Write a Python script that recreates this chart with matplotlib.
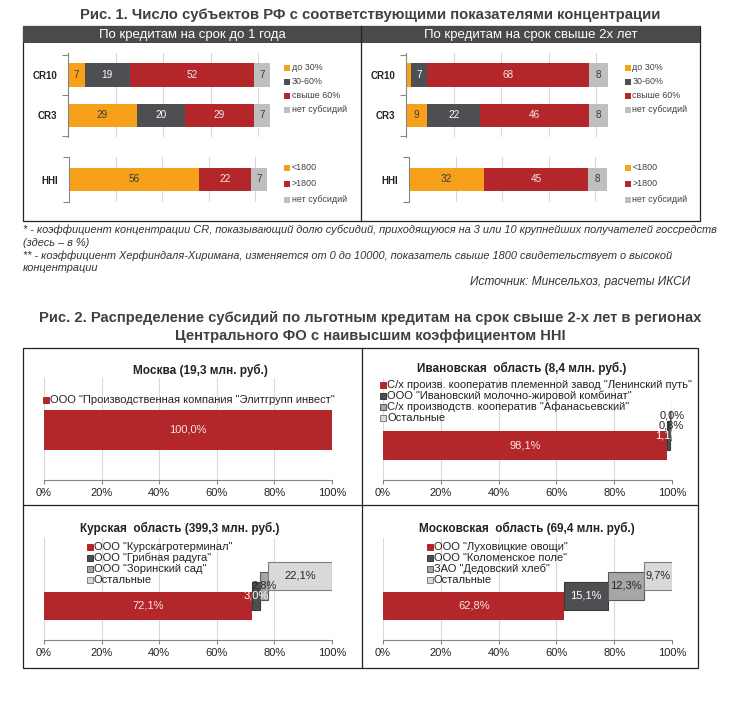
import matplotlib
matplotlib.use("Agg")
import matplotlib.pyplot as plt
from matplotlib.patches import Rectangle

plt.rcParams['font.family'] = ['Liberation Sans', 'DejaVu Sans']

# ---------------- DATA ----------------
fig1_title = 'Рис. 1. Число субъектов РФ с соответствующими показателями концентрации'
panel_titles = ['По кредитам на срок до 1 года', 'По кредитам на срок свыше 2х лет']
cr_cats = ['CR10', 'CR3']
cr_labels = ['до 30%', '30-60%', 'свыше 60%', 'нет субсидий']
cr_short = [[7, 29], [19, 20], [52, 29], [7, 7]]     # series x (CR10, CR3)
cr_long = [[2, 9], [7, 22], [68, 46], [8, 8]]
hhi_cats = ['HHI']
hhi_labels = ['<1800', '>1800', 'нет субсидий']
hhi_short = [56, 22, 7]
hhi_long = [32, 45, 8]

footnotes = [
    '* - коэффициент концентрации CR, показывающий долю субсидий, приходящуюся на 3 или 10 крупнейших получателей госсредств',
    '(здесь – в %)',
    '** - коэффициент Херфиндаля-Хиримана, изменяется от 0 до 10000, показатель свыше 1800 свидетельствует о высокой',
    'концентрации',
]
source_text = 'Источник: Минсельхоз, расчеты ИКСИ'

fig2_title = ['Рис. 2. Распределение субсидий по льготным кредитам на срок свыше 2-х лет в регионах',
              'Центрального ФО с наивысшим коэффициентом HHI']

region_titles = ['Москва (19,3 млн. руб.)', 'Ивановская  область (8,4 млн. руб.)',
                 'Курская  область (399,3 млн. руб.)', 'Московская  область (69,4 млн. руб.)']
moscow_names = ['ООО "Производственная компания "Элитгрупп инвест"']
moscow_shares = [100.0]
ivanovo_names = ['С/х произв. кооператив племенной завод "Ленинский путь"',
                 'ООО "Ивановский молочно-жировой комбинат"',
                 'С/х производств. кооператив "Афанасьевский"', 'Остальные']
ivanovo_shares = [98.1, 1.1, 0.8, 0.0]
kursk_names = ['ООО "Курскагротерминал"', 'ООО "Грибная радуга"', 'ООО "Зоринский сад"', 'Остальные']
kursk_shares = [72.1, 3.0, 2.8, 22.1]
mo_names = ['ООО "Луховицкие овощи"', 'ООО "Коломенское поле"', 'ЗАО "Дедовский хлеб"', 'Остальные']
mo_shares = [62.8, 15.1, 12.3, 9.7]
pct_ticks = [0, 20, 40, 60, 80, 100]

# ---------------- STYLE ----------------
W, H = 730, 715
ORANGE, DGRAY, RED, LGRAY = '#F7A11A', '#4D4F53', '#B3262A', '#BFBFBF'
cr_colors = [ORANGE, DGRAY, RED, LGRAY]
cr_txt = ['#3a3a3a', 'white', '#f6e6e6', '#3a3a3a']
hhi_colors = [ORANGE, RED, LGRAY]
hhi_txt = ['#3a3a3a', '#f6e6e6', '#3a3a3a']
f2_colors = ['#B3262A', '#4D4F53', '#A6A6A6', '#D9D9D9']
f2_edges = ['#B3262A', '#3a3a3a', '#595959', '#7f7f7f']
f2_txt = ['#f6e6e6', 'white', '#262626', '#262626']

fig = plt.figure(figsize=(W / 100, H / 100), dpi=100)
fig.patch.set_facecolor('white')


def fx(x):
    return x / W


def fy(y):
    return 1 - y / H


def add_ax(left, top, right, bottom):
    return fig.add_axes([fx(left), fy(bottom), (right - left) / W, (bottom - top) / H])


def frect(x0, y0, x1, y1, **kw):
    fig.patches.append(Rectangle((fx(x0), fy(y1)), (x1 - x0) / W, (y1 - y0) / H,
                                 transform=fig.transFigure, **kw))


# ---------------- FIGURE 1 ----------------
fig.text(fx(370), fy(15), fig1_title, ha='center', va='center', fontsize=10.7,
         fontweight='bold', color='#404040')
frect(22.5, 26, 700, 221, facecolor='none', edgecolor='#222222', lw=0.9)
fig.lines.append(plt.Line2D([fx(361), fx(361)], [fy(26), fy(221)], transform=fig.transFigure,
                            color='#222222', lw=0.9))
for (x0, x1), t in zip([(23, 361), (361, 700)], panel_titles):
    frect(x0, 26.5, x1, 43, facecolor='#4A4A4A', edgecolor='none')
    fig.text(fx((x0 + x1) / 2), fy(35), t, ha='center', va='center', fontsize=9.5, color='white')


def style_cat_axis(ax, cats, n):
    ax.set_yticks(range(n))
    ax.set_yticklabels(cats, fontsize=7, fontweight='bold', color='#222222')
    ax.set_yticks([i - 0.5 for i in range(n + 1)], minor=True)
    ax.tick_params(axis='y', which='major', length=0, pad=8)
    ax.tick_params(axis='y', which='minor', length=4, color='#868686', width=0.8)
    ax.tick_params(axis='x', length=0, labelbottom=False)
    for s in ['top', 'right', 'bottom']:
        ax.spines[s].set_visible(False)
    ax.spines['left'].set_color('#868686')
    ax.spines['left'].set_linewidth(0.8)
    ax.set_xticks([0, 20, 40, 60, 80])
    ax.grid(axis='x', color='#D9D9D9', lw=0.8)
    ax.set_axisbelow(True)


def stacked(ax, data, colors, txtcols, ncat, height):
    lefts = [0] * ncat
    for s, vals in enumerate(data):
        bars = ax.barh(range(ncat), vals, left=lefts, height=height, color=colors[s], lw=0)
        for b, v in zip(bars, vals):
            if v >= 3:
                ax.text(b.get_x() + b.get_width() / 2, b.get_y() + b.get_height() / 2, str(v),
                        ha='center', va='center', fontsize=7.2, color=txtcols[s])
        lefts = [l + v for l, v in zip(lefts, vals)]


def legend_f1(x, ys, labels, colors):
    for y, lab, c in zip(ys, labels, colors):
        frect(x, y - 2.8, x + 5.5, y + 2.8, facecolor=c, edgecolor='none')
        fig.text(fx(x + 7.5), fy(y), lab, ha='left', va='center', fontsize=6.4, color='#404040')


for p, (cr, hh) in enumerate([(cr_short, hhi_short), (cr_long, hhi_long)]):
    left = 68 if p == 0 else 406
    hleft = 69 if p == 0 else 409
    ax = add_ax(left, 53, left + 88 * 2.38, 137)
    ax.set_xlim(0, 88)
    ax.set_ylim(1.53, -0.54)
    style_cat_axis(ax, cr_cats, 2)
    stacked(ax, cr, cr_colors, cr_txt, 2, 0.58)

    ax2 = add_ax(hleft, 157, hleft + 88 * 2.33, 202)
    ax2.set_xlim(0, 88)
    ax2.set_ylim(0.5, -0.5)
    style_cat_axis(ax2, hhi_cats, 1)
    stacked(ax2, [[v] for v in hh], hhi_colors, hhi_txt, 1, 0.51)

    lx = 284 if p == 0 else 625
    legend_f1(lx, [68, 82, 96, 110], cr_labels, cr_colors)
    legend_f1(lx, [168, 184, 200], hhi_labels, hhi_colors)

# footnotes
for y, t in zip([230, 243, 256, 268], footnotes):
    fig.text(fx(23), fy(y), t, ha='left', va='center', fontsize=7.9, style='italic', color='#333333')
fig.text(fx(690), fy(282), source_text, ha='right', va='center', fontsize=8.6, style='italic',
         color='#333333')

# ---------------- FIGURE 2 ----------------
fig.text(fx(370), fy(318), fig2_title[0], ha='center', va='center', fontsize=10.6,
         fontweight='bold', color='#404040')
fig.text(fx(370), fy(336), fig2_title[1], ha='center', va='center', fontsize=10.6,
         fontweight='bold', color='#404040')

frect(23, 348, 698, 668, facecolor='none', edgecolor='#222222', lw=0.9)
fig.lines.append(plt.Line2D([fx(23), fx(698)], [fy(505), fy(505)], transform=fig.transFigure,
                            color='#222222', lw=0.9))
fig.lines.append(plt.Line2D([fx(362), fx(362)], [fy(348), fy(668)], transform=fig.transFigure,
                            color='#222222', lw=0.9))

panels = [
    dict(names=moscow_names, shares=moscow_shares, box=(44, 378, 332, 480), title_xy=(200, 370),
         leg_x=43, leg_y=400, base=50, height=40),
    dict(names=ivanovo_names, shares=ivanovo_shares, box=(383, 378, 672, 480), title_xy=(522, 368),
         leg_x=380, leg_y=385, base=34.5, height=29),
    dict(names=kursk_names, shares=kursk_shares, box=(44, 538, 332, 640), title_xy=(180, 528),
         leg_x=87, leg_y=547, base=34, height=28),
    dict(names=mo_names, shares=mo_shares, box=(383, 538, 672, 640), title_xy=(527, 528),
         leg_x=427, leg_y=547, base=34, height=28),
]


def fmt(v):
    return f'{v:.1f}%'.replace('.', ',')


for P, title in zip(panels, region_titles):
    l, t, r, b = P['box']
    ax = add_ax(l, t, r, b)
    ax.set_xlim(0, 100)
    ax.set_ylim(0, b - t)
    ax.set_xticks(pct_ticks)
    ax.set_xticklabels([f'{v}%' for v in pct_ticks], fontsize=8, color='#222222')
    ax.tick_params(axis='x', length=3, color='#868686', pad=3)
    ax.set_yticks([])
    for s in ['top', 'right', 'left']:
        ax.spines[s].set_visible(False)
    ax.spines['bottom'].set_color('#868686')
    ax.grid(axis='x', color='#D9D9D9', lw=0.8)
    ax.set_axisbelow(True)
    ax.patch.set_alpha(0)

    cum = 0
    for i, v in enumerate(P['shares']):
        yc = P['base'] + 10 * i
        ax.barh([yc], [v], left=[cum], height=P['height'], color=f2_colors[i],
                edgecolor=f2_edges[i], lw=0.8 if i > 0 else 0)
        ax.text(cum + v / 2, yc, fmt(v), ha='center', va='center', fontsize=8, color=f2_txt[i])
        cum += v

    fig.text(fx(P['title_xy'][0]), fy(P['title_xy'][1]), title, ha='center', va='center',
             fontsize=8.5, fontweight='bold', color='#222222')
    for i, name in enumerate(P['names']):
        y = P['leg_y'] + 11 * i
        frect(P['leg_x'], y - 3, P['leg_x'] + 6, y + 3, facecolor=f2_colors[i],
              edgecolor=f2_edges[i] if i > 0 else f2_colors[i], lw=0.7)
        fig.text(fx(P['leg_x'] + 7), fy(y), name, ha='left', va='center', fontsize=8,
                 color='#222222')

fig.savefig('out.png', dpi=100, facecolor='white')
